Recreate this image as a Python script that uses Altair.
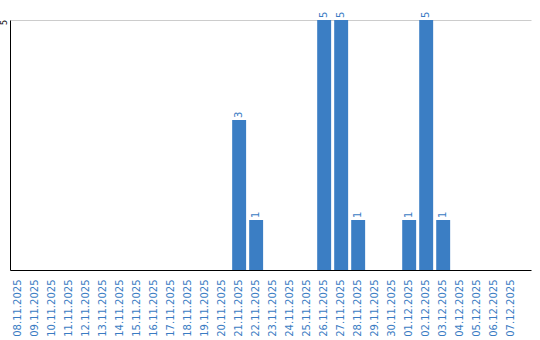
import altair as alt
import pandas as pd

dates = [
    "08.11.2025", "09.11.2025", "10.11.2025", "11.11.2025", "12.11.2025",
    "13.11.2025", "14.11.2025", "15.11.2025", "16.11.2025", "17.11.2025",
    "18.11.2025", "19.11.2025", "20.11.2025", "21.11.2025", "22.11.2025",
    "23.11.2025", "24.11.2025", "25.11.2025", "26.11.2025", "27.11.2025",
    "28.11.2025", "29.11.2025", "30.11.2025", "01.12.2025", "02.12.2025",
    "03.12.2025", "04.12.2025", "05.12.2025", "06.12.2025", "07.12.2025",
]
counts = [0, 0, 0, 0, 0, 0, 0, 0, 0, 0, 0, 0, 0, 3, 1,
          0, 0, 0, 5, 5, 1, 0, 0, 1, 5, 1, 0, 0, 0, 0]

df = pd.DataFrame({"date": dates, "count": counts})

BLUE = "#3b7ec4"
TXT = "#3a7cc3"

x = alt.X(
    "date:N", sort=dates, title=None,
    scale=alt.Scale(paddingInner=0.18, paddingOuter=0.41, align=0.08),
    axis=alt.Axis(labelAngle=270, labelFont="DejaVu Sans", labelFontSize=10,
                  labelColor=TXT, ticks=False, labelPadding=9,
                  domainColor="#000000", domainWidth=1, grid=False),
)
y = alt.Y(
    "count:Q", title=None,
    scale=alt.Scale(domain=[0, 5], nice=False),
    axis=alt.Axis(values=[5], labelAngle=270, labelAlign="center",
                  labelBaseline="alphabetic", labelFlush=False,
                  labelOffset=2,
                  labelFont="DejaVu Sans",
                  labelFontSize=8, labelColor="#000000", ticks=False,
                  labelPadding=4, domainColor="#000000", domainWidth=1,
                  grid=True, gridColor="#cccccc", gridWidth=1),
)

bars = alt.Chart(df).mark_bar(color=BLUE).encode(x=x, y=y)

labels = alt.Chart(df).transform_filter(alt.datum["count"] > 0).mark_text(
    angle=270, align="left", baseline="middle", dx=2,
    font="DejaVu Sans", fontSize=10, color=TXT,
).encode(x=alt.X("date:N", sort=dates), y=alt.Y("count:Q"), text="count:Q")

chart = alt.layer(bars, labels).properties(
    width=521, height=250,
    padding={"left": 10, "top": 20, "right": 9, "bottom": 70},
    autosize=alt.AutoSizeParams(type="none"),
    background="white",
).configure_view(stroke=None)

chart.save("out.html", embed_options={"renderer": "svg", "actions": False})
